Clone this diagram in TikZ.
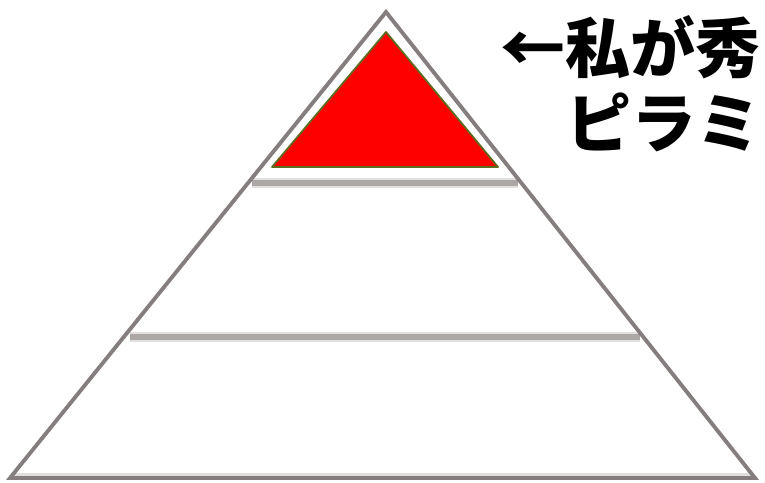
\documentclass[tikz,border=0pt]{standalone}
\usepackage{fontspec}
\newfontfamily\cjk{Noto Sans CJK JP}[BoldFont={Noto Sans CJK JP Black}]
\usepackage{tikz}
\usetikzlibrary{positioning, calc}
\definecolor{edgegray}{HTML}{847E7E}
\definecolor{bandgray}{HTML}{ACA7A5}
\definecolor{halogray}{HTML}{E2E0DF}
\definecolor{topred}{HTML}{FF0000}
\definecolor{topolive}{HTML}{5E6B1C}
\tikzstyle{edge} = [draw=edgegray, line width=2.2pt]
\tikzstyle{band} = [draw=bandgray, line width=3pt]
\tikzstyle{halo} = [draw=halogray, line width=6pt]

\begin{document}
\begin{tikzpicture}[x=0.02cm, y=-0.02cm, every node/.style={inner sep=0pt, font=\cjk\bfseries\fontsize{37}{42}\selectfont}]
    \useasboundingbox (0,0) rectangle (765,483);
    \clip (0,0) rectangle (765,483);
    \fill[white] (0,0) rectangle (765,483);
    % pyramid corners
    \coordinate (apex) at (386,12);
    \coordinate (baseL) at (10,478);
    \coordinate (baseR) at (755,478);
    % band ends
    \coordinate (b1L) at (252,183);
    \coordinate (b1R) at (518,183);
    \coordinate (b2L) at (130,337);
    \coordinate (b2R) at (640,337);

    \draw[halo] (b1L) -- (b1R);
    \draw[halo] (b2L) -- (b2R);
    \draw[band] (b1L) -- (b1R);
    \draw[band] (b2L) -- (b2R);
    \draw[halo, line width=2.5pt] ($(baseL)+(4,-3)$) -- ($(baseR)+(-4,-3)$);
    \draw[edge, line join=miter] (baseL) -- (apex) -- (baseR) -- cycle;

    % top level
    \coordinate (redTop) at (386,32);
    \coordinate (redL) at (272,167);
    \coordinate (redR) at (498,167);
    \filldraw[fill=topred, draw=topolive, line width=1pt, line join=round] (redTop) -- (redL) -- (redR) -- cycle;

    % caption
    \node[anchor=west] (line1) at (500,47) {←私が秀};
    \node[anchor=west] (line2) at (566,122) {ピラミ};
\end{tikzpicture}
\end{document}
